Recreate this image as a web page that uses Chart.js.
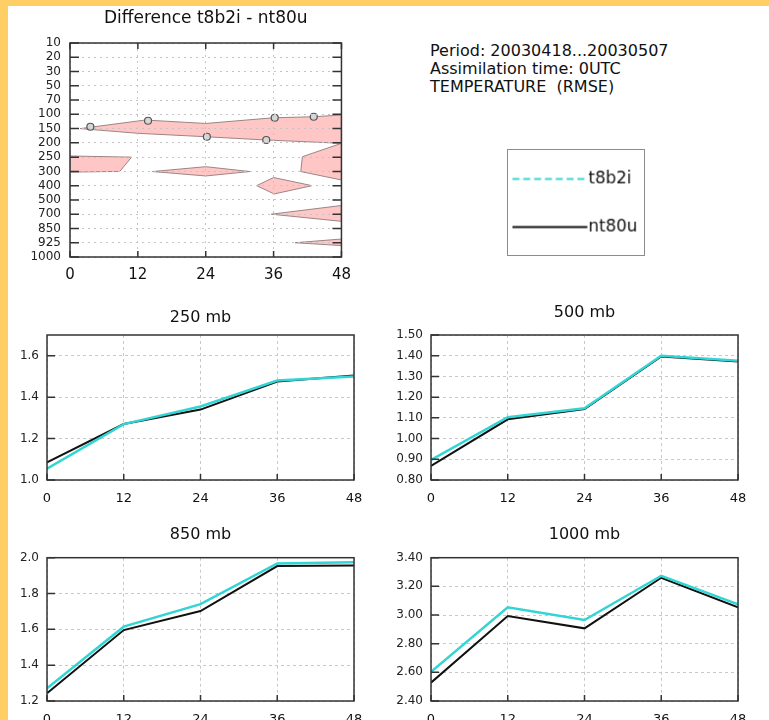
<!DOCTYPE html>
<html>
<head>
<meta charset="utf-8">
<script src="https://cdn.jsdelivr.net/npm/chart.js@4.4.1/dist/chart.umd.min.js"></script>
<style>
  html, body { margin: 0; padding: 0; }
  body { width: 769px; height: 720px; background: #ffcf66; position: relative; overflow: hidden; font-family: "DejaVu Sans", sans-serif; }
  #panel { position: absolute; left: 8px; top: 6px; width: 761px; height: 714px; background: #fff; }
  canvas { position: absolute; }
  #info { position: absolute; left: 430px; top: 42px; font-size: 16px; line-height: 18px; color: #111; white-space: pre; }
</style>
</head>
<body>
<div id="panel"></div>
<canvas id="diff" style="left:0;top:0" width="360" height="290"></canvas>
<div id="info">Period: 20030418...20030507
Assimilation time: 0UTC
TEMPERATURE  (RMSE)</div>
<canvas id="legend" style="left:507px;top:149px;border:1.5px solid #8c8c8c" width="138" height="107"></canvas>
<canvas id="c250" style="left:0;top:290px" width="380" height="215"></canvas>
<canvas id="c500" style="left:380px;top:290px" width="389" height="215"></canvas>
<canvas id="c850" style="left:0;top:505px" width="380" height="215"></canvas>
<canvas id="c1000" style="left:380px;top:505px" width="389" height="215"></canvas>
<script>
// forecast hours (x axis of every panel)
const hours = [0, 12, 24, 36, 48];
const seriesNames = ['t8b2i', 'nt80u'];

// RMSE per level
const t8b2i250 = [1.055, 1.27, 1.355, 1.48, 1.50];
const nt80u250 = [1.085, 1.27, 1.34, 1.475, 1.505];
const ticks250 = [1.0, 1.2, 1.4, 1.6];
const max250 = 1.7;

const t8b2i500 = [0.897, 1.103, 1.146, 1.40, 1.376];
const nt80u500 = [0.868, 1.093, 1.142, 1.396, 1.372];
const ticks500 = [0.8, 0.9, 1.0, 1.1, 1.2, 1.3, 1.4, 1.5];

const t8b2i850 = [1.271, 1.615, 1.741, 1.968, 1.974];
const nt80u850 = [1.243, 1.596, 1.702, 1.953, 1.957];
const ticks850 = [1.2, 1.4, 1.6, 1.8, 2.0];

const t8b2i1000 = [2.604, 3.054, 2.965, 3.274, 3.075];
const nt80u1000 = [2.528, 2.993, 2.907, 3.26, 3.054];
const ticks1000 = [2.4, 2.6, 2.8, 3.0, 3.2, 3.4];

// difference plot: pressure levels (top to bottom) and shaded regions as [hour, level index]
const levels = ['10', '20', '30', '50', '70', '100', '150', '200', '250', '300', '400', '500', '700', '850', '925', '1000'];
const diffBand = [[1.8, 6.0], [13.3, 5.40], [24, 5.64], [36, 5.24], [43.1, 5.17], [48, 5.05], [48, 7.03], [34.7, 6.80], [24, 6.57], [12, 6.33]];
const diffLeft = [[0, 7.92], [10.9, 8.0], [8.8, 9.0], [0, 9.05]];
const diff300 = [[14.6, 9.01], [24, 8.67], [31.8, 9.01], [24, 9.32]];
const diff400 = [[33, 10.0], [36, 9.43], [42.8, 10.0], [36.1, 10.58]];
const diffRight = [[48, 7.03], [41.1, 7.97], [40.8, 9.01], [48, 9.6]];
const diff700 = [[35.6, 12.0], [48, 11.39], [48, 12.5]];
const diff925 = [[39.8, 14.0], [48, 13.74], [48, 14.2]];
const zeroLabels = [[3.6, 5.87], [13.8, 5.45], [24.2, 6.57], [36.2, 5.24], [43.1, 5.17], [34.7, 6.8]];

const FONT = '"DejaVu Sans", sans-serif';
const CYAN = '#33d4d4';
const BLACK = '#111';

// box around the plot area with inward tick marks
const framePlugin = {
  id: 'frame',
  afterDraw(chart, args, opts) {
    const { ctx, chartArea: a, scales } = chart;
    const len = opts.ticks || {};
    ctx.save();
    ctx.strokeStyle = '#333';
    ctx.lineWidth = 1.5;
    ctx.beginPath();
    scales.y.ticks.forEach(t => {
      const py = scales.y.getPixelForValue(t.value);
      if (len.left) { ctx.moveTo(a.left, py); ctx.lineTo(a.left + len.left, py); }
      if (len.right) { ctx.moveTo(a.right, py); ctx.lineTo(a.right - len.right, py); }
    });
    scales.x.ticks.forEach(t => {
      const px = scales.x.getPixelForValue(t.value);
      if (len.bottom) { ctx.moveTo(px, a.bottom); ctx.lineTo(px, a.bottom - len.bottom); }
      if (len.top) { ctx.moveTo(px, a.top); ctx.lineTo(px, a.top + len.top); }
    });
    ctx.stroke();
    ctx.strokeRect(a.left, a.top, a.right - a.left, a.bottom - a.top);
    ctx.restore();
  }
};

// legend drawn inside its own bordered canvas
const boxLegend = {
  id: 'boxLegend',
  afterDraw(chart, args, opts) {
    const ctx = chart.ctx;
    chart.data.datasets.forEach((ds, i) => {
      const y = opts.top + i * opts.gap;
      ctx.save();
      ctx.strokeStyle = ds.borderColor;
      ctx.lineWidth = ds.borderWidth;
      ctx.setLineDash(ds.borderDash || []);
      ctx.beginPath();
      ctx.moveTo(opts.x0, y);
      ctx.lineTo(opts.x1, y);
      ctx.stroke();
      ctx.fillStyle = '#111';
      ctx.font = '17px ' + FONT;
      ctx.textBaseline = 'middle';
      ctx.fillText(ds.label, opts.x1 + 1, y);
      ctx.restore();
    });
  }
};

function toPoints(xs, ys) {
  return xs.map((x, i) => ({ x: x, y: ys[i] }));
}

function polygon(p) {
  return {
    data: p.concat([p[0]]).map(v => ({ x: v[0], y: v[1] })),
    fill: 'shape',
    backgroundColor: '#ffc6c6',
    borderColor: '#9c8585',
    borderWidth: 1,
    pointRadius: 0,
    tension: 0
  };
}

new Chart(document.getElementById('diff'), {
  type: 'line',
  data: {
    datasets: [
      {
        data: zeroLabels.map(v => ({ x: v[0], y: v[1] })),
        showLine: false,
        pointRadius: 3.5,
        pointBackgroundColor: '#d6d6d6',
        pointBorderColor: '#555',
        pointBorderWidth: 1.2
      },
      polygon(diffBand), polygon(diffLeft), polygon(diff300), polygon(diff400),
      polygon(diffRight), polygon(diff700), polygon(diff925)
    ]
  },
  options: {
    responsive: false,
    animation: false,
    layout: { padding: { left: 0, right: 13, top: 0, bottom: 0 } },
    plugins: {
      legend: { display: false },
      tooltip: { enabled: false },
      title: {
        display: true, fullSize: false, text: 'Difference t8b2i - nt80u', color: '#111',
        font: { family: FONT, size: 17, weight: 'normal' },
        padding: { top: 8.1, bottom: 14.5 }
      },
      frame: { ticks: { left: 9, right: 9, top: 6, bottom: 6 } }
    },
    scales: {
      x: {
        type: 'linear', min: 0, max: 48,
        afterBuildTicks: s => { s.ticks = hours.map(v => ({ value: v })); },
        afterFit: s => { s.height = 33; },
        grid: { color: '#c4c4c4', drawTicks: false, z: 1 },
        border: { display: false, dash: [2, 4] },
        ticks: { padding: 9, color: '#111', font: { family: FONT, size: 15 }, maxRotation: 0 }
      },
      y: {
        type: 'linear', min: 0, max: levels.length - 1, reverse: true,
        afterBuildTicks: s => { s.ticks = levels.map((l, i) => ({ value: i })); },
        afterFit: s => { s.width = 70; },
        grid: { color: '#c4c4c4', drawTicks: false, z: 1 },
        border: { display: false, dash: [2, 4] },
        ticks: { padding: 9, autoSkip: false, color: '#222', font: { family: FONT, size: 12 }, callback: v => levels[v] }
      }
    }
  },
  plugins: [framePlugin]
});

new Chart(document.getElementById('legend'), {
  type: 'line',
  data: {
    datasets: [
      { label: seriesNames[0], data: [], borderColor: CYAN, borderWidth: 2, borderDash: [7, 4] },
      { label: seriesNames[1], data: [], borderColor: BLACK, borderWidth: 2 }
    ]
  },
  options: {
    responsive: false,
    animation: false,
    scales: { x: { display: false }, y: { display: false } },
    plugins: {
      legend: { display: false },
      tooltip: { enabled: false },
      boxLegend: { x0: 4.5, x1: 80.5, top: 29.5, gap: 49 }
    }
  },
  plugins: [boxLegend]
});

function lineChart(id, title, t8, nt, yTicks, yMax, decimals, box) {
  return new Chart(document.getElementById(id), {
    type: 'line',
    data: {
      datasets: [
        { label: seriesNames[0], data: toPoints(hours, t8), borderColor: CYAN, borderWidth: 2.5, pointRadius: 0, tension: 0 },
        { label: seriesNames[1], data: toPoints(hours, nt), borderColor: BLACK, borderWidth: 2, pointRadius: 0, tension: 0 }
      ]
    },
    options: {
      responsive: false,
      animation: false,
      layout: { padding: { left: 0, right: box.right, top: 0, bottom: 0 } },
      plugins: {
        legend: { display: false },
        tooltip: { enabled: false },
        title: {
          display: true, fullSize: false, text: title, color: '#111',
          font: { family: FONT, size: 16, weight: 'normal' },
          padding: { top: box.tTop, bottom: box.tBottom }
        },
        frame: { ticks: { left: 8, bottom: 6 } }
      },
      scales: {
        x: {
          type: 'linear', min: 0, max: 48,
          afterBuildTicks: s => { s.ticks = hours.map(v => ({ value: v })); },
          afterFit: s => { s.height = box.xh; },
          grid: { color: '#c8c8c8', drawTicks: false },
          border: { display: false, dash: [3, 3] },
          ticks: { padding: 11, color: '#111', font: { family: FONT, size: 13 }, maxRotation: 0 }
        },
        y: {
          type: 'linear', min: yTicks[0], max: yMax,
          afterBuildTicks: s => { s.ticks = yTicks.map(v => ({ value: v })); },
          afterFit: s => { s.width = box.yw; },
          grid: { color: '#c8c8c8', drawTicks: false },
          border: { display: false, dash: [3, 3] },
          ticks: { padding: 8, autoSkip: false, color: '#222', font: { family: FONT, size: 12 }, callback: v => Number(v).toFixed(decimals) }
        }
      }
    },
    plugins: [framePlugin]
  });
}

lineChart('c250', '250 mb', t8b2i250, nt80u250, ticks250, max250, 1,
  { right: 26, yw: 47, xh: 25, tTop: 18.4, tBottom: 7.4 });
lineChart('c500', '500 mb', t8b2i500, nt80u500, ticks500, ticks500[ticks500.length - 1], 2,
  { right: 31, yw: 51, xh: 25, tTop: 13.4, tBottom: 12.4 });
lineChart('c850', '850 mb', t8b2i850, nt80u850, ticks850, ticks850[ticks850.length - 1], 1,
  { right: 26, yw: 47, xh: 19, tTop: 20.4, tBottom: 13.1 });
lineChart('c1000', '1000 mb', t8b2i1000, nt80u1000, ticks1000, ticks1000[ticks1000.length - 1], 2,
  { right: 31, yw: 51, xh: 19, tTop: 20.4, tBottom: 13.1 });
</script>
</body>
</html>
